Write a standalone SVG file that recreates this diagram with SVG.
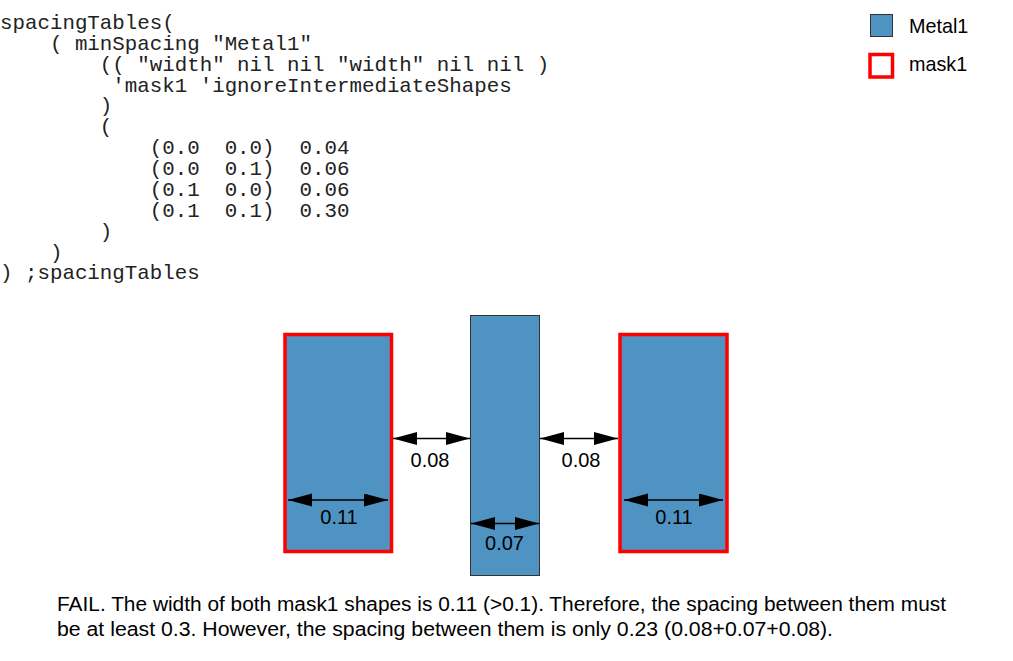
<svg xmlns="http://www.w3.org/2000/svg" width="1013" height="661" viewBox="0 0 1013 661">
<style>
.code{font-family:"Liberation Mono","Courier New",monospace;font-size:20.8px;fill:#222;white-space:pre}
.lbl{font-family:"Liberation Sans",Arial,sans-serif;font-size:20px;fill:#000;text-anchor:middle}
.leg{font-family:"Liberation Sans",Arial,sans-serif;font-size:19.8px;fill:#000}
.note{font-family:"Liberation Sans",Arial,sans-serif;font-size:20px;fill:#000}
.metal{fill:#4f93c3;stroke:#333;stroke-width:1}
.mask{fill:#4f93c3;stroke:#ff0000;stroke-width:3.5}
.dim{stroke:#000;stroke-width:1.3;fill:none;marker-start:url(#ah);marker-end:url(#ah)}
</style>
<defs>
<marker id="ah" markerUnits="userSpaceOnUse" markerWidth="24" markerHeight="14" refX="24" refY="6.5" orient="auto-start-reverse">
<path d="M0,0 L24,6.5 L0,13 z" fill="#000"/>
</marker>
</defs>
<rect width="1013" height="661" fill="#fff"/>
<g id="code" xml:space="preserve">
<text class="code" x="0" y="29">spacingTables(</text>
<text class="code" x="0" y="49.9">    ( minSpacing "Metal1"</text>
<text class="code" x="0" y="70.7">        (( "width" nil nil "width" nil nil )</text>
<text class="code" x="0" y="91.6">         'mask1 'ignoreIntermediateShapes</text>
<text class="code" x="0" y="112.4">        )</text>
<text class="code" x="0" y="133.3">        (</text>
<text class="code" x="0" y="154.2">            (0.0  0.0)  0.04</text>
<text class="code" x="0" y="175">            (0.0  0.1)  0.06</text>
<text class="code" x="0" y="195.9">            (0.1  0.0)  0.06</text>
<text class="code" x="0" y="216.7">            (0.1  0.1)  0.30</text>
<text class="code" x="0" y="237.6">        )</text>
<text class="code" x="0" y="258.5">    )</text>
<text class="code" x="0" y="279.3">) ;spacingTables</text>
</g>
<g id="legend-metal1">
<rect class="metal" x="870.5" y="14.5" width="22" height="22"/>
<text class="leg" x="909" y="33">Metal1</text>
</g>
<g id="legend-mask1">
<rect x="870" y="54.5" width="22.5" height="22.5" fill="#fff" stroke="#ff0000" stroke-width="3.5"/>
<text class="leg" x="909" y="71">mask1</text>
</g>
<g id="shape-left">
<rect class="mask" x="285" y="334.5" width="106.5" height="217"/>
</g>
<g id="shape-center">
<rect class="metal" x="470.5" y="315.5" width="69" height="260"/>
</g>
<g id="shape-right">
<rect class="mask" x="620" y="334.5" width="107" height="217"/>
</g>
<g id="connectors">
<line class="dim" x1="393" y1="438.5" x2="470" y2="438.5"/>
<line class="dim" x1="540" y1="438.5" x2="618" y2="438.5"/>
<line class="dim" x1="288" y1="500" x2="388" y2="500"/>
<line class="dim" x1="624" y1="500" x2="723" y2="500"/>
<line class="dim" x1="471" y1="523.5" x2="539" y2="523.5"/>
</g>
<g id="labels">
<text class="lbl" x="430" y="467">0.08</text>
<text class="lbl" x="581" y="467">0.08</text>
<text class="lbl" x="339" y="524">0.11</text>
<text class="lbl" x="674" y="524">0.11</text>
<text class="lbl" x="504.5" y="550">0.07</text>
</g>
<g id="note">
<text class="note" x="57" y="611" textLength="889" lengthAdjust="spacingAndGlyphs">FAIL. The width of both mask1 shapes is 0.11 (&gt;0.1). Therefore, the spacing between them must</text>
<text class="note" x="57" y="636" textLength="776" lengthAdjust="spacingAndGlyphs">be at least 0.3. However, the spacing between them is only 0.23 (0.08+0.07+0.08).</text>
</g>
</svg>
